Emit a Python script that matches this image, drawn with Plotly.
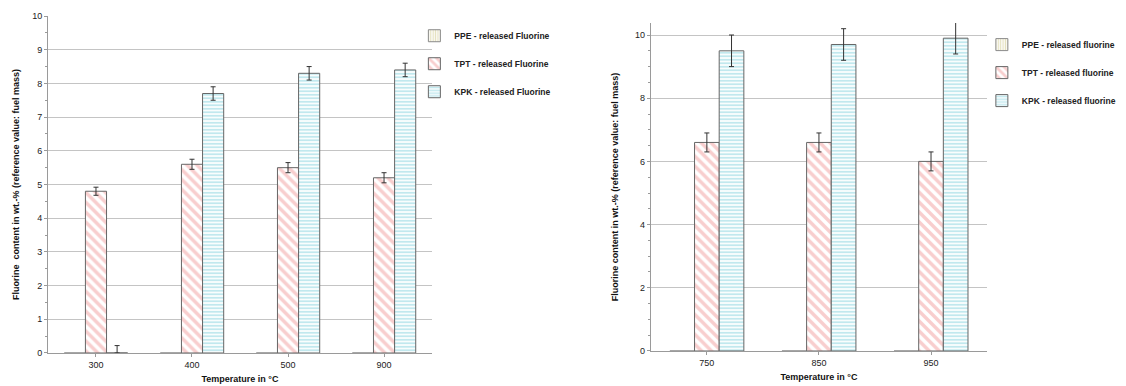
import plotly.graph_objects as go

# Left chart data
left_categories = ["300", "400", "500", "900"]
left_ppe = [0, 0, 0, 0]
left_tpt = [4.8, 5.6, 5.5, 5.2]
left_tpt_err = [0.12, 0.15, 0.15, 0.15]
left_kpk = [0, 7.7, 8.3, 8.4]
left_kpk_err = [0.22, 0.2, 0.2, 0.2]
left_kpk_err_minus = [0, 0.2, 0.2, 0.2]

# Right chart data
right_categories = ["750", "850", "950"]
right_ppe = [0, 0, 0]
right_tpt = [6.6, 6.6, 6.0]
right_tpt_err = [0.3, 0.3, 0.3]
right_kpk = [9.5, 9.7, 9.9]
right_kpk_err = [0.5, 0.5, 0.5]

left_names = ["<b>PPE - released Fluorine</b>", "<b>TPT - released Fluorine</b>", "<b>KPK - released Fluorine</b>"]
right_names = ["<b>PPE - released fluorine</b>", "<b>TPT - released fluorine</b>", "<b>KPK - released fluorine</b>"]

OUTLINE = "#666666"
PINK = "#f29e9e"
CYAN = "#84d2de"
PPE_FG = "#c9c27a"

err_style = dict(type="data", color="#333333", thickness=1, width=2.5, visible=True)

fig = go.Figure()


def add_set(cats, ppe, tpt, tpt_err, kpk, kpk_err, kpk_err_m, names, xa, ya, leg):
    fig.add_trace(go.Bar(
        x=cats, y=ppe, name=names[0], xaxis=xa, yaxis=ya, legend=leg,
        legendgroup=leg + "a",
        marker=dict(color="white", line=dict(color="#8a8a8a", width=1),
                    pattern=dict(shape="|", fgcolor=PPE_FG, bgcolor="white", size=3, solidity=0.5)),
    ))
    fig.add_trace(go.Bar(
        x=cats, y=tpt, name=names[1], xaxis=xa, yaxis=ya, legend=leg,
        legendgroup=leg + "b",
        error_y=dict(array=tpt_err, **err_style),
        marker=dict(color="white", line=dict(color=OUTLINE, width=1),
                    pattern=dict(shape="\\", fgcolor=PINK, bgcolor="white", size=7, solidity=0.5)),
    ))
    fig.add_trace(go.Bar(
        x=cats, y=kpk, name=names[2], xaxis=xa, yaxis=ya, legend=leg,
        legendgroup=leg + "c",
        error_y=dict(array=kpk_err, arrayminus=kpk_err_m, **err_style),
        marker=dict(color="white", line=dict(color=OUTLINE, width=1),
                    pattern=dict(shape="-", fgcolor=CYAN, bgcolor="white", size=3.5, solidity=0.55)),
    ))


add_set(left_categories, left_ppe, left_tpt, left_tpt_err, left_kpk, left_kpk_err,
        left_kpk_err_minus, left_names, "x", "y", "legend")
add_set(right_categories, right_ppe, right_tpt, right_tpt_err, right_kpk, right_kpk_err,
        right_kpk_err, right_names, "x2", "y2", "legend2")

FONT = "Liberation Sans, Arial, sans-serif"
tickfont = dict(family=FONT, size=9, color="#222")
titlefont = dict(family=FONT, size=9, color="#111")

axis_common = dict(showline=True, linecolor="#9a9a9a", linewidth=1, tickfont=tickfont,
                   ticks="outside", tickcolor="#9a9a9a", ticklen=3, zeroline=False,
                   automargin=False)

fig.update_layout(
    width=1126, height=386,
    margin=dict(l=0, r=0, t=0, b=0, autoexpand=False),
    paper_bgcolor="white", plot_bgcolor="white",
    barmode="group", bargap=0.34, bargroupgap=0,
    font=dict(family=FONT, size=9, color="#222"),
    xaxis=dict(domain=[0.0426, 0.3837], anchor="y",
               title=dict(text="<b>Temperature in °C</b>", font=titlefont, standoff=6),
               showgrid=False, **axis_common),
    yaxis=dict(domain=[0.0855, 0.9585], anchor="x", range=[0, 10], dtick=1,
               showgrid=True, gridcolor="#c4c4c4", gridwidth=1,
               minor=dict(dtick=0.5, ticks="outside", ticklen=2, tickcolor="#9a9a9a"),
               title=dict(text="<b>Fluorine  content in wt.-% (reference value: fuel mass)</b>",
                          font=titlefont, standoff=10),
               **axis_common),
    xaxis2=dict(domain=[0.578, 0.8766], anchor="y2",
                title=dict(text="<b>Temperature in °C</b>", font=titlefont, standoff=6),
                showgrid=False, **axis_common),
    yaxis2=dict(domain=[0.0907, 0.9404], anchor="x2", range=[0, 10.38], dtick=2,
                showgrid=True, gridcolor="#c4c4c4", gridwidth=1,
                minor=dict(dtick=0.5, ticks="outside", ticklen=2, tickcolor="#9a9a9a"),
                title=dict(text="<b>Fluorine content in wt.-% (reference value: fuel mass)</b>",
                           font=titlefont, standoff=14),
                **axis_common),
    legend=dict(x=0.368, y=0.945, xanchor="left", yanchor="top",
                font=dict(family=FONT, size=8.5, color="#222"),
                tracegroupgap=9, itemwidth=30, bgcolor="rgba(0,0,0,0)"),
    legend2=dict(x=0.872, y=0.922, xanchor="left", yanchor="top",
                 font=dict(family=FONT, size=8.5, color="#222"),
                 tracegroupgap=9, itemwidth=30, bgcolor="rgba(0,0,0,0)"),
    showlegend=True,
)

fig.write_html("out.html", config={"displayModeBar": False},
               post_script="document.body.style.margin='0';")
